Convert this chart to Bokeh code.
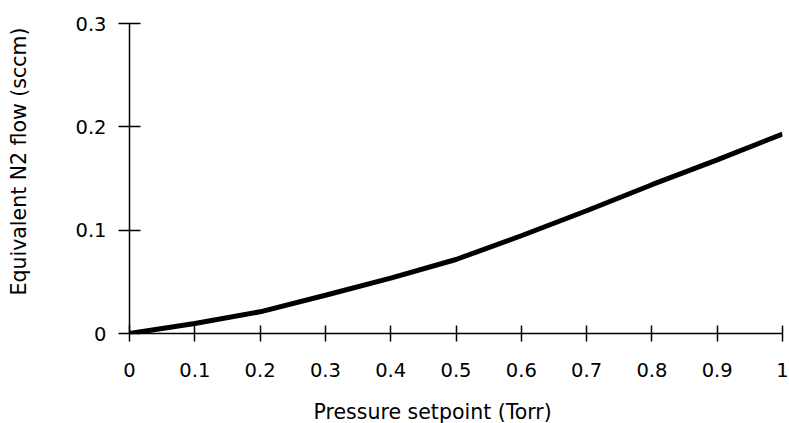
from bokeh.plotting import figure
from bokeh.models import Range1d, FixedTicker, Title, CustomJSTickFormatter, LinearAxis
from bokeh.embed import file_html
from bokeh.resources import INLINE

pressure = [0.0, 0.1, 0.2, 0.3, 0.4, 0.5, 0.6, 0.7, 0.8, 0.9, 1.0]
flow = [0.0, 0.0097, 0.021, 0.037, 0.0536, 0.0716, 0.0946, 0.1188, 0.144, 0.168, 0.193]
x_ticks = [0, 0.1, 0.2, 0.3, 0.4, 0.5, 0.6, 0.7, 0.8, 0.9, 1]
y_ticks = [0, 0.1, 0.2, 0.3]
x_title = "Pressure setpoint (Torr)"
y_title = "Equivalent N2 flow (sccm)"

FONT = "DejaVu Sans"
FS = "19.5px"
TFS = "20.5px"

p = figure(width=789, height=423, output_backend="svg", toolbar_location=None,
           x_range=Range1d(0, 1), y_range=Range1d(0, 0.3),
           min_border_left=129, min_border_right=7, min_border_top=23, min_border_bottom=90)
p.outline_line_color = None
p.grid.visible = False
p.background_fill_color = "white"
p.border_fill_color = "white"

p.line(pressure, flow, line_width=5, line_color="black")

fmt = CustomJSTickFormatter(code="return (Math.round(tick*10)/10).toString();")

xa = p.xaxis[0]
xa.ticker = FixedTicker(ticks=x_ticks, minor_ticks=[])
xa.formatter = fmt
xa.major_tick_in = 8
xa.major_tick_out = 8
xa.minor_tick_line_color = None
xa.axis_line_width = 1.5
xa.major_tick_line_width = 1.5
xa.axis_line_color = "black"
xa.major_tick_line_color = "black"
xa.major_label_text_font = FONT
xa.major_label_text_font_size = FS
xa.major_label_text_color = "black"
xa.major_label_standoff = 21

ya = p.yaxis[0]
ya.ticker = FixedTicker(ticks=y_ticks, minor_ticks=[])
ya.formatter = fmt
ya.major_tick_in = 11
ya.major_tick_out = 11
ya.minor_tick_line_color = None
ya.axis_line_width = 1.5
ya.major_tick_line_width = 1.5
ya.axis_line_color = "black"
ya.major_tick_line_color = "black"
ya.major_label_text_font = FONT
ya.major_label_text_font_size = FS
ya.major_label_text_color = "black"
ya.major_label_standoff = 12


def spacer(size):
    # invisible axis used only to reserve room between an axis and its title
    ax = LinearAxis(ticker=FixedTicker(ticks=[0], minor_ticks=[]),
                    formatter=CustomJSTickFormatter(code="return '';"),
                    major_tick_in=0, major_tick_out=size, minor_tick_in=0, minor_tick_out=0,
                    major_label_standoff=0, major_label_text_font_size="1px",
                    major_label_text_color=None, axis_line_color=None,
                    major_tick_line_color=None, minor_tick_line_color=None)
    return ax


p.add_layout(spacer(42), "left")
p.add_layout(spacer(18), "below")

xt = Title(text=x_title, align="left", offset=184, standoff=0, vertical_align="bottom",
           text_font=FONT, text_font_size=TFS, text_font_style="normal", text_color="black")
p.add_layout(xt, "below")
yt = Title(text=y_title, align="left", offset=38, standoff=0, vertical_align="bottom",
           text_font=FONT, text_font_size=TFS, text_font_style="normal", text_color="black")
p.add_layout(yt, "left")

open("out.html", "w").write(file_html(p, INLINE))
